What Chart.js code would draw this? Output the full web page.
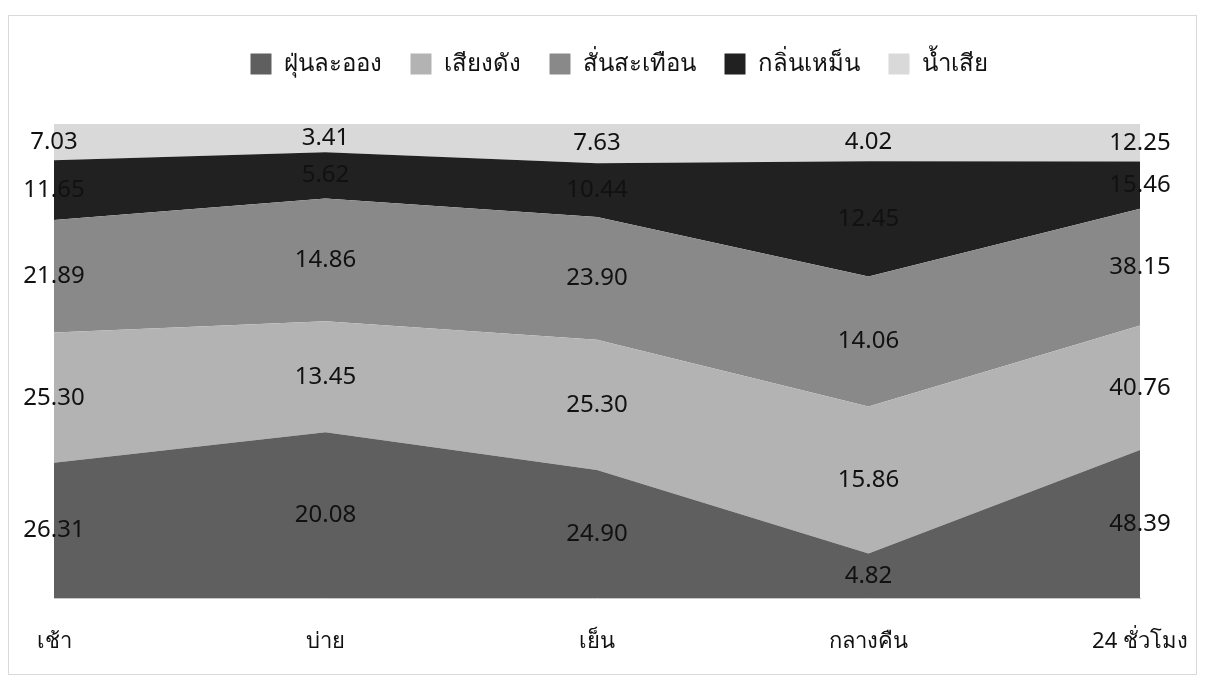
<!DOCTYPE html>
<html>
<head>
<meta charset="utf-8">
<script src="https://cdn.jsdelivr.net/npm/chart.js@4"></script>
<style>
  body { margin: 0; background: #fff; }
  #frame {
    position: absolute; left: 8px; top: 15px;
    width: 1189px; height: 660px;
    border: 1px solid #d9d9d9; box-sizing: border-box;
  }
  #wrap { position: absolute; left: 9px; top: 12px; width: 1187px; height: 662px; }
</style>
</head>
<body>
<div id="frame"></div>
<div id="wrap"><canvas id="chart"></canvas></div>
<script>
const categories = ["เช้า", "บ่าย", "เย็น", "กลางคืน", "24 ชั่วโมง"];
const seriesNames = ["ฝุ่นละออง", "เสียงดัง", "สั่นสะเทือน", "กลิ่นเหม็น", "น้ำเสีย"];
const dust = [26.31, 20.08, 24.90, 4.82, 48.39];
const noise = [25.30, 13.45, 25.30, 15.86, 40.76];
const vibration = [21.89, 14.86, 23.90, 14.06, 38.15];
const smell = [11.65, 5.62, 10.44, 12.45, 15.46];
const wastewater = [7.03, 3.41, 7.63, 4.02, 12.25];
const colors = ["#5f5f5f", "#b3b3b3", "#898989", "#212121", "#d9d9d9"];

// 100% stacked: each column is scaled to its own total
const raw = [dust, noise, vibration, smell, wastewater];
const totals = categories.map((c, j) => raw.reduce((s, arr) => s + arr[j], 0));
const percent = raw.map(arr => arr.map((v, j) => v / totals[j] * 100));

const FONT = "'Noto Sans', 'DejaVu Sans', sans-serif";

const valueLabels = {
    id: "valueLabels",
    afterDatasetsDraw(chart) {
        const ctx = chart.ctx;
        const y = chart.scales.y;
        ctx.save();
        ctx.font = "24px " + FONT;
        ctx.fillStyle = "#111";
        ctx.textAlign = "center";
        ctx.textBaseline = "middle";
        categories.forEach((c, j) => {
            let base = 0;
            raw.forEach((arr, i) => {
                const top = base + percent[i][j];
                const px = chart.getDatasetMeta(i).data[j].x;
                const py = (y.getPixelForValue(base) + y.getPixelForValue(top)) / 2;
                ctx.fillText(arr[j].toFixed(2), px, py);
                base = top;
            });
        });
        ctx.restore();
    }
};

// fixed legend height so the plot starts where the original does,
// and nudge the legend row a little to the right like the original
const legendFix = {
    id: "legendFix",
    beforeLayout(chart) {
        const lg = chart.legend;
        if (lg && !lg._patched) {
            const fit = lg.fit;
            lg.fit = function () { fit.call(this); this.height = 101; };
            lg._patched = true;
        }
    },
    afterLayout(chart) {
        chart.legend.left += 22;
        chart.legend.right += 22;
    }
};

new Chart(document.getElementById("chart"), {
    type: "line",
    data: {
        labels: categories,
        datasets: seriesNames.map((name, i) => ({
            label: name,
            data: percent[i],
            backgroundColor: colors[i],
            borderColor: colors[i],
            borderWidth: 0,
            pointRadius: 0,
            fill: i === 0 ? "origin" : "-1",
            tension: 0,
        })),
    },
    options: {
        responsive: true,
        maintainAspectRatio: false,
        animation: false,
        layout: { padding: { left: 45, right: 56, top: 11, bottom: 0 } },
        plugins: {
            legend: {
                position: "top",
                labels: {
                    font: { size: 24, family: FONT },
                    color: "#111",
                    boxWidth: 21,
                    boxHeight: 21,
                    padding: 29,
                },
            },
            tooltip: { enabled: false },
        },
        scales: {
            x: {
                offset: false,
                grid: { display: false },
                border: { display: true, color: "#c8c8c8" },
                ticks: { font: { size: 22, family: FONT }, color: "#111", padding: 23, maxRotation: 0 },
                afterFit(scale) {
                    scale.height = 76;
                    scale.paddingLeft = 0;
                    scale.paddingRight = 0;
                },
            },
            y: {
                display: false,
                stacked: true,
                min: 0,
                max: 100,
            },
        },
    },
    plugins: [valueLabels, legendFix],
});
</script>
</body>
</html>
